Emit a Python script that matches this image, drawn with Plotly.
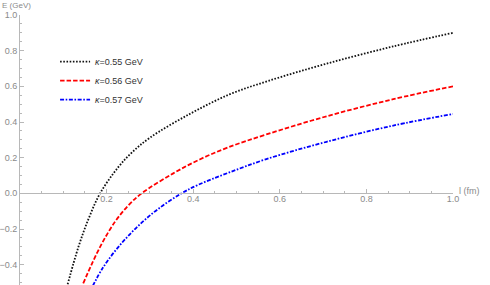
import plotly.graph_objects as go

# Data
l_k055 = [0.110, 0.135, 0.158, 0.185, 0.227, 0.258, 0.300, 0.392, 0.485, 0.573, 0.708, 0.862, 1.000]
E_k055 = [-0.510, -0.300, -0.145, 0.000, 0.147, 0.228, 0.312, 0.445, 0.556, 0.630, 0.727, 0.824, 0.900]

l_k056 = [0.146, 0.185, 0.219, 0.250, 0.281, 0.354, 0.415, 0.481, 0.569, 0.708, 0.862, 1.000]
E_k056 = [-0.505, -0.300, -0.161, -0.068, 0.000, 0.112, 0.190, 0.258, 0.330, 0.432, 0.528, 0.600]

l_k057 = [0.168, 0.192, 0.231, 0.275, 0.320, 0.373, 0.411, 0.481, 0.569, 0.708, 0.862, 1.000]
E_k057 = [-0.520, -0.415, -0.290, -0.178, -0.086, 0.000, 0.047, 0.115, 0.192, 0.289, 0.380, 0.445]

series_names = ["<i>κ</i>=0.55 GeV", "<i>κ</i>=0.56 GeV", "<i>κ</i>=0.57 GeV"]
x_ticks = [0.2, 0.4, 0.6, 0.8, 1.0]
y_ticks = [-0.4, -0.2, 0.0, 0.2, 0.4, 0.6, 0.8, 1.0]

Y_MIN, Y_MAX = -0.514, 1.0
X_MIN, X_MAX = 0.0, 1.0

fig = go.Figure()
styles = [
    dict(color="#111111", dash="1.6px,1.6px"),
    dict(color="#ff0000", dash="4.5px,2px"),
    dict(color="#0000ff", dash="4px,1.6px,1.6px,1.6px"),
]
for xs, ys, name, st in zip([l_k055, l_k056, l_k057], [E_k055, E_k056, E_k057], series_names, styles):
    fig.add_trace(go.Scatter(
        x=xs, y=ys, mode="lines", name=name,
        line=dict(color=st["color"], dash=st["dash"], width=1.8, shape="spline", smoothing=1.0),
    ))

axis_col = "#b8b8b8"
FONT = "Liberation Sans, Arial, sans-serif"
tick_font = dict(family=FONT, size=9, color="#8a8a8a")

fig.update_layout(
    width=490, height=285,
    margin=dict(l=20, r=490 - 453, t=15, b=0, pad=0),
    paper_bgcolor="white", plot_bgcolor="white",
    showlegend=True,
    legend=dict(
        x=0.081, y=0.881, xanchor="left", yanchor="top",
        font=dict(family=FONT, size=9, color="#333333"),
        bgcolor="rgba(0,0,0,0)", tracegroupgap=0, itemwidth=30,
    ),
    xaxis=dict(
        range=[X_MIN, X_MAX], anchor="free", position=(0 - Y_MIN) / (Y_MAX - Y_MIN),
        automargin=False,
        showline=True, linecolor=axis_col, linewidth=1,
        showgrid=False, zeroline=False,
        tickvals=x_ticks, ticktext=[f"{v:.1f}" for v in x_ticks],
        ticks="inside", ticklen=4, tickcolor=axis_col, tickwidth=1,
        minor=dict(dtick=0.05, tick0=0, ticks="inside", ticklen=2, tickcolor=axis_col),
        tickfont=tick_font, ticklabelstandoff=-3,
    ),
    yaxis=dict(
        range=[Y_MIN, Y_MAX], automargin=False,
        showline=True, linecolor=axis_col, linewidth=1,
        showgrid=False, zeroline=False,
        tickvals=y_ticks, ticktext=[f"{v:.1f}" if v >= 0 else f"\u2212{abs(v):.1f}" for v in y_ticks],
        ticks="inside", ticklen=4, tickcolor=axis_col, tickwidth=1,
        minor=dict(dtick=0.05, tick0=0, ticks="inside", ticklen=2, tickcolor=axis_col),
        tickfont=tick_font,
    ),
    annotations=[
        dict(text="l (fm)", xref="paper", yref="y", x=1.0, y=0, xanchor="left", yanchor="middle",
             xshift=4, yshift=2, showarrow=False,
             font=dict(family=FONT, size=9, color="#8a8a8a")),
        dict(text="E (GeV)", xref="paper", yref="paper", x=0, y=1, xanchor="left", yanchor="middle",
             xshift=-20, yshift=9.5, showarrow=False,
             font=dict(family=FONT, size=8, color="#8a8a8a")),
    ],
)

fig.write_html(
    "out.html",
    config={"displayModeBar": False},
    post_script="document.body.style.margin='0';document.body.style.overflow='hidden';",
)
